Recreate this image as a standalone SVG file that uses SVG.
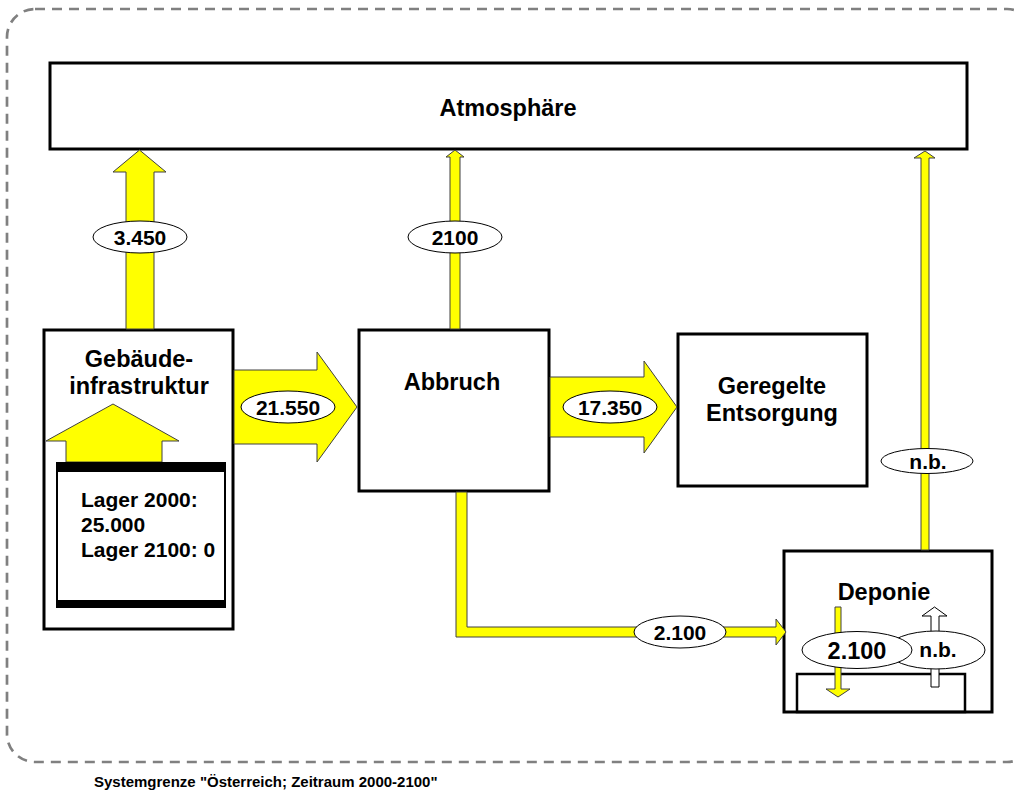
<svg xmlns="http://www.w3.org/2000/svg" width="1014" height="793" viewBox="0 0 1014 793">
<style>
text{font-family:"Liberation Sans",Arial,sans-serif;font-weight:bold;fill:#000}
.box{fill:#fff;stroke:#000;stroke-width:3}
.flow{fill:#ffff00;stroke:#404040;stroke-width:1}
.lbl{fill:#fff;stroke:#000;stroke-width:1}
.t{font-size:23.5px;text-anchor:middle}
.l{font-size:21px;text-anchor:middle}
</style>
<rect width="1014" height="793" fill="#fff"/>
<g id="boundary">
<rect x="7" y="9" width="1028" height="753" rx="28" fill="none" stroke="#808080" stroke-width="2.7" stroke-dasharray="10 7"/>
<text x="94" y="787" style="font-size:15px">Systemgrenze "Österreich; Zeitraum 2000-2100"</text>
</g>
<g id="atmosphaere">
<rect class="box" x="50" y="63" width="917" height="86"/>
<text class="t" x="508" y="116">Atmosphäre</text>
</g>
<g id="gebaeude">
<rect class="box" x="44" y="330" width="189" height="299"/>
<text class="t" x="139" y="367">Gebäude-</text>
<text class="t" x="139" y="394">infrastruktur</text>
<polygon class="flow" points="66,462 66,441 46,441 113,404 179,441 162,441 162,462"/>
<rect x="57" y="463" width="168" height="144" fill="#fff" stroke="#000" stroke-width="2"/>
<rect x="56" y="463" width="170" height="9" fill="#000"/>
<rect x="56" y="600" width="170" height="8" fill="#000"/>
<text x="81" y="507" style="font-size:21px">Lager 2000:</text>
<text x="81" y="532" style="font-size:21px">25.000</text>
<text x="81" y="557" style="font-size:21px">Lager 2100: 0</text>
</g>
<g id="abbruch">
<rect class="box" x="359" y="330" width="190" height="161"/>
<text class="t" x="452" y="390">Abbruch</text>
</g>
<g id="entsorgung">
<rect class="box" x="678" y="334" width="189" height="152"/>
<text class="t" x="772" y="394">Geregelte</text>
<text class="t" x="772" y="421">Entsorgung</text>
</g>
<g id="deponie">
<rect class="box" x="784" y="551" width="208" height="161"/>
<text class="t" x="884" y="600">Deponie</text>
<rect x="797" y="674" width="168" height="38" fill="none" stroke="#000" stroke-width="2.5"/>
<polygon class="flow" points="835,607 841,607 841,689 850,689 838,697 826,689 835,689"/>
<polygon fill="#fff" stroke="#000" stroke-width="1" points="931,687 931,616 922,616 934.5,607 947,616 939,616 939,687"/>
<ellipse class="lbl" cx="936" cy="650" rx="49" ry="19"/>
<text class="l" x="938" y="657">n.b.</text>
<ellipse class="lbl" cx="857" cy="650" rx="55" ry="18.5"/>
<text x="857" y="659" style="font-size:23.5px;text-anchor:middle">2.100</text>
</g>
<g id="connectors">
<polygon class="flow" points="126,329 126,172 113,172 139.5,150 166,172 154,172 154,329"/>
<ellipse class="lbl" cx="140" cy="237" rx="47" ry="16"/>
<text class="l" x="140" y="245">3.450</text>
<polygon class="flow" points="450,329 450,157 446,157 455,150 464,157 460,157 460,329"/>
<ellipse class="lbl" cx="455" cy="237" rx="47" ry="16"/>
<text class="l" x="455" y="245">2100</text>
<polygon class="flow" points="921,550 921,158 914,158 925,151 935,158 929,158 929,550"/>
<ellipse class="lbl" cx="927" cy="461" rx="46" ry="12.5"/>
<text class="l" x="928" y="469">n.b.</text>
<polygon class="flow" points="234,370 317,370 317,352 357,407 317,462 317,444 234,444"/>
<ellipse class="lbl" cx="288" cy="407" rx="47" ry="16"/>
<text class="l" x="288" y="415">21.550</text>
<polygon class="flow" points="550,377 644,377 644,361 677,407 644,453 644,437 550,437"/>
<ellipse class="lbl" cx="610" cy="407" rx="47" ry="16"/>
<text class="l" x="610" y="415">17.350</text>
<polygon class="flow" points="456,492 467,492 467,627 776,627 776,619 786,632 776,645 776,637 456,637"/>
<ellipse class="lbl" cx="680" cy="632" rx="46" ry="16"/>
<text class="l" x="680" y="640">2.100</text>
</g>
</svg>
